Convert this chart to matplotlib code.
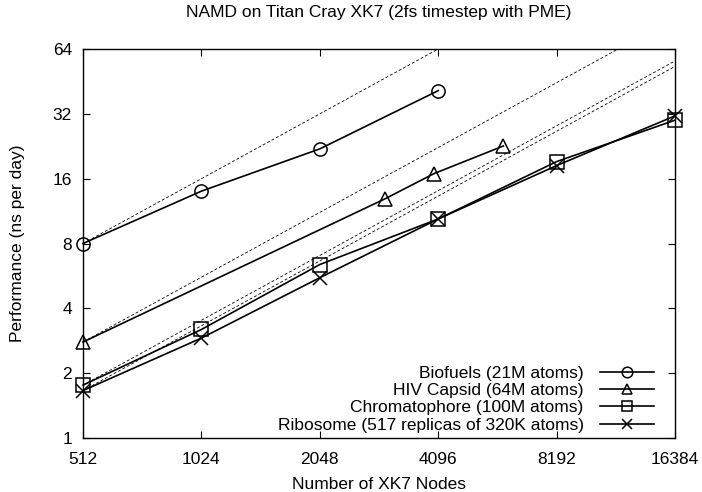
import matplotlib
matplotlib.use("Agg")
import matplotlib.pyplot as plt
import numpy as np

plt.rcParams['font.family'] = ['Liberation Sans', 'DejaVu Sans']

title = "NAMD on Titan Cray XK7 (2fs timestep with PME)"
xlabel = "Number of XK7 Nodes"
ylabel = "Performance (ns per day)"

x_ticks = [512, 1024, 2048, 4096, 8192, 16384]
y_ticks = [1, 2, 4, 8, 16, 32, 64]

biofuels_x = [512, 1024, 2048, 4096]
biofuels_y = [8.0, 14.0, 22.0, 41.0]

hiv_x = [512, 3000, 4000, 6000]
hiv_y = [2.79, 12.9, 16.9, 22.7]

chrom_x = [512, 1024, 2048, 4096, 8192, 16384]
chrom_y = [1.76, 3.19, 6.39, 10.4, 19.2, 29.9]

ribo_x = [512, 1024, 2048, 4096, 8192, 16384]
ribo_y = [1.66, 2.91, 5.55, 10.4, 18.4, 31.3]

series = [
    ("Biofuels (21M atoms)", biofuels_x, biofuels_y, 'o'),
    ("HIV Capsid (64M atoms)", hiv_x, hiv_y, '^'),
    ("Chromatophore (100M atoms)", chrom_x, chrom_y, 's'),
    ("Ribosome (517 replicas of 320K atoms)", ribo_x, ribo_y, 'x'),
]

FS = 12.5

fig = plt.figure(figsize=(7.02, 4.92), dpi=100)
ax = fig.add_axes([83/702, 1-438/492, (675-83)/702, (438-49)/492])

xmin, xmax = 512, 16384
xs = np.array([xmin, xmax], dtype=float)
for name, xv, yv, m in series:
    ax.plot(xs, yv[0] * xs / xv[0], color='black', lw=0.6, ls=(0, (3.5, 2.5)), zorder=1)

handles = []
for name, xv, yv, m in series:
    h, = ax.plot(xv, yv, color='black', lw=1.2, marker=m, ms=9.5,
                 mfc='none', mec='black', mew=1.1, label=name, zorder=3, clip_on=False)
    handles.append(h)

ax.set_xscale('log', base=2)
ax.set_yscale('log', base=2)
ax.set_xlim(xmin, xmax)
ax.set_ylim(1, 64)
ax.set_xticks(x_ticks)
ax.set_xticklabels([str(v) for v in x_ticks])
ax.set_yticks(y_ticks)
ax.set_yticklabels([str(v) for v in y_ticks])
ax.minorticks_off()
ax.tick_params(axis='both', direction='in', top=True, right=True, length=5, width=0.8, labelsize=FS)
ax.tick_params(axis='x', pad=10)
ax.tick_params(axis='y', pad=8)
for s in ax.spines.values():
    s.set_linewidth(1.0)

ax.set_title(title, fontsize=FS, pad=23)
ax.set_xlabel(xlabel, fontsize=FS, labelpad=7)
ax.set_ylabel(ylabel, fontsize=FS, va='center')
ax.yaxis.set_label_coords((18 - 83) / 592, 0.5)

leg = ax.legend(handles=handles, loc='lower right', frameon=False, fontsize=FS,
                markerfirst=False, handlelength=3.16, handletextpad=0.92,
                labelspacing=0.12, borderaxespad=0.0, markerscale=0.8,
                bbox_to_anchor=(0.977, -0.004))
for t in leg.get_texts():
    t.set_ha('right')

fig.savefig("out.png", dpi=100)
